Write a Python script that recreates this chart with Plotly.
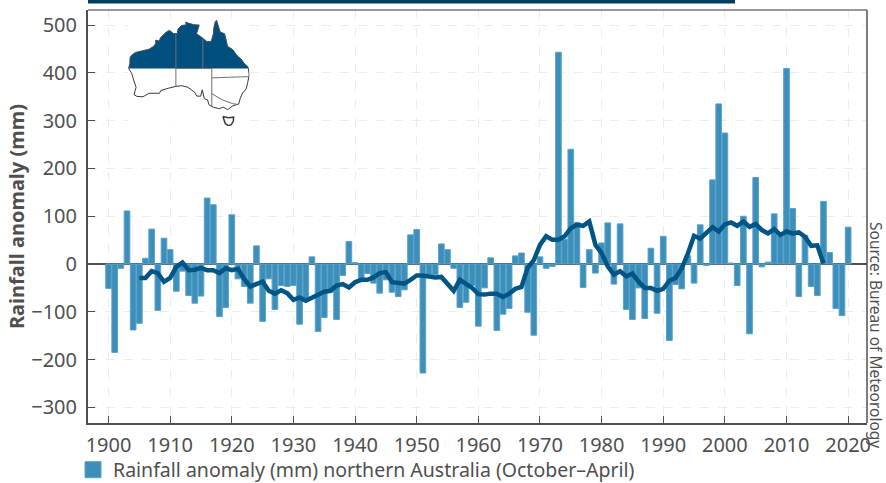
import plotly.graph_objects as go

W, H = 886, 483
L, R, T, B = 88, 867, 10, 423

bar_years = list(range(1900, 2021))
anomaly = [
    -51, -185, -9, 111, -138, -124, 12, 73, -97, 54,
    30, -57, -15, -66, -82, -67, 138, 124, -110, -91,
    103, -31, -47, -82, 38, -120, -31, -95, -45, -47,
    -45, -126, -78, 15, -141, -112, -59, -116, -24, 47,
    3, -31, -20, -40, -61, -33, -59, -68, -54, 61,
    72, -228, -22, -22, 42, 30, -9, -91, -80, -45,
    -130, -50, 13, -139, -105, -93, 17, 23, -101, -149,
    15, -9, -5, 443, 52, 240, 87, -49, 30, -19,
    44, 86, -42, 84, -95, -116, -50, -114, 33, -103,
    58, -160, -43, -52, 17, -40, 82, -3, 176, 335,
    274, 2, -45, 100, -146, 181, -6, 4, 105, 64,
    409, 116, -68, 60, -47, -66, 131, 24, -93, -108,
    77,
]

mean_years = list(range(1905, 2017))
running_mean = [
    -29, -29, -15, -19, -37,
    -29, -6, 3, -13, -12, -8, -13, -13, -19, -9,
    -13, -10, -31, -47, -41, -37, -56, -62, -55, -61,
    -75, -70, -77, -71, -63, -58, -56, -45, -42, -49,
    -38, -33, -33, -28, -19, -17, -38, -39, -41, -33,
    -24, -24, -27, -28, -27, -43, -56, -33, -41, -50,
    -63, -64, -62, -62, -69, -62, -52, -48, -8, 8,
    40, 58, 51, 51, 58, 75, 82, 80, 89, 40,
    23, -5, -22, -15, -26, -20, -37, -50, -50, -56,
    -52, -35, -29, -9, 22, 59, 53, 66, 77, 68,
    83, 87, 80, 89, 78, 84, 71, 64, 73, 61,
    68, 64, 66, 57, 38, 39, 1,
]

y_ticks = [-300, -200, -100, 0, 100, 200, 300, 400, 500]
x_ticks = list(range(1900, 2021, 10))

legend_label = "Rainfall anomaly (mm) northern Australia (October–April)"
y_title = "Rainfall anomaly (mm)"
source_text = "Source: Bureau of Meteorology"

# Map outline (longitude, latitude)
north_lon = [113.2, 113.6, 113.7, 114.2, 115.5, 116.8, 118.5, 120, 121.5, 122.3, 122.2, 123.5, 123.8, 124.8,
             125.8, 126.9, 128.2, 129.5, 129.7, 130.8, 132.5, 132.2, 133.5, 135, 136.8, 136.5, 135.9, 137.5,
             139.3, 140.8, 141.5, 141.7, 142.2, 142.6, 143.5, 143.8, 145.3, 145.8, 146.3, 148, 149.5, 150.8,
             152, 153.1, 153.2]
north_lat = [-26, -24.5, -22.5, -21.8, -20.9, -20.6, -20.3, -19.9, -19, -18, -17, -17.3, -16.3, -15.3,
             -14.4, -13.9, -14.9, -14.9, -13.5, -12.4, -12.1, -11.3, -11.6, -12.1, -12.2, -13.3, -15, -16,
             -17.4, -17.5, -15, -13, -11, -10.7, -13, -14.4, -15, -17, -19, -20, -22, -23,
             -24.6, -25.5, -26]
south_lon = [153.2, 153.5, 153, 152.5, 151.3, 150.5, 150, 148, 146.3, 144.8, 143.5, 141.5, 140, 139.6, 138.5,
             138.2, 137.8, 137.3, 136, 135.2, 134, 133, 131, 129, 126.5, 124, 123.5, 120, 118, 116, 115,
             115.7, 115, 114.2, 113.2]
south_lat = [-26, -28, -30.5, -32.5, -33.8, -35.5, -37.3, -37.9, -39.1, -38.3, -38.8, -38.3, -37.5, -36, -35.6,
             -34.5, -32.8, -34.8, -34.8, -33.5, -32.6, -32, -31.5, -31.7, -32.3, -33, -33.9, -33.9, -35, -34.9, -34.3,
             -32, -30, -27.5, -26]
tas_lon = [144.7, 146.5, 148.3, 148.2, 147.5, 146.5, 145.5, 144.7]
tas_lat = [-41.3, -41.7, -41.5, -42.8, -43.9, -44.2, -43.5, -41.3]
border_lon = [129, 129, None, 138, 138, None, 129, 141, None, 141, 141, None, 141, 153.3, None, 141, 144.5, 148, 150]
border_lat = [-14.9, -31.7, None, -16.6, -26, None, -26, -26, None, -26, -38.3, None, -29, -28.6, None, -34, -36, -37.2, -37.5]

BAR_FILL = "#3d8fbb"
BAR_EDGE = "#5ba3ca"
LINE = "#005585"
DARK = "#003f62"
TEXT = "#4f4f4f"
AXIS = "#505050"
GRID = "#ececec"

fig = go.Figure()

fig.add_trace(go.Bar(
    x=bar_years, y=anomaly, width=0.92, showlegend=False,
    marker=dict(color=BAR_FILL, line=dict(color=BAR_EDGE, width=1)),
))
fig.add_trace(go.Scatter(
    x=mean_years, y=running_mean, mode="lines", showlegend=False,
    line=dict(color=LINE, width=4.5),
))
# legend key
fig.add_trace(go.Scatter(
    x=[None], y=[None], mode="markers", name=legend_label, showlegend=True,
    marker=dict(symbol="square", size=16, color=BAR_FILL, line=dict(color=BAR_EDGE, width=1)),
))

# map inset
fig.add_trace(go.Scatter(
    x=south_lon, y=south_lat, xaxis="x2", yaxis="y2", mode="lines", fill="toself",
    fillcolor="white", line=dict(color="#3a3a3a", width=1), showlegend=False, hoverinfo="skip",
))
fig.add_trace(go.Scatter(
    x=tas_lon, y=tas_lat, xaxis="x2", yaxis="y2", mode="lines", fill="toself",
    fillcolor="white", line=dict(color="#3a3a3a", width=1.5), showlegend=False, hoverinfo="skip",
))
fig.add_trace(go.Scatter(
    x=north_lon, y=north_lat, xaxis="x2", yaxis="y2", mode="lines", fill="toself",
    fillcolor="#004f7f", line=dict(color="#44505a", width=1), showlegend=False, hoverinfo="skip",
))
fig.add_trace(go.Scatter(
    x=border_lon, y=border_lat, xaxis="x2", yaxis="y2", mode="lines",
    line=dict(color="#707070", width=1), showlegend=False, hoverinfo="skip",
))

def xf(px):
    return (px - L) / (R - L)

def yf(py):
    return (B - py) / (B - T)

fig.update_layout(
    width=W, height=H,
    margin=dict(l=L, r=W - R, t=T, b=H - B, pad=0, autoexpand=False),
    paper_bgcolor="white", plot_bgcolor="white",
    font=dict(family="Noto Sans, sans-serif", color=TEXT, size=20),
    barmode="overlay",
    xaxis=dict(
        range=[1896.67, 2023.06], tickvals=x_ticks, ticks="inside", ticklen=7, tickwidth=1,
        tickcolor=AXIS, showgrid=True, gridcolor=GRID, griddash="dash", gridwidth=1,
        showline=True, linecolor=AXIS, linewidth=2, zeroline=False,
        tickfont=dict(size=20, color=TEXT), ticklabelstandoff=3,
    ),
    yaxis=dict(
        range=[-332.6, 531.4], tickvals=y_ticks, ticks="inside", ticklen=7, tickwidth=1,
        tickcolor=AXIS, showgrid=True, gridcolor=GRID, griddash="dash", gridwidth=1,
        showline=True, linecolor=AXIS, linewidth=2, zeroline=True, zerolinecolor=AXIS, zerolinewidth=2,
        tickfont=dict(size=20, color=TEXT), ticklabelstandoff=5,
        title=dict(text="<b>" + y_title + "</b>", font=dict(size=20, color=TEXT), standoff=1),
    ),
    xaxis2=dict(domain=[xf(128), xf(249.5)], range=[113, 153.6], visible=False, fixedrange=True),
    yaxis2=dict(domain=[yf(126), yf(20)], range=[-44.3, -10.6], visible=False, fixedrange=True),
    legend=dict(
        xref="container", yref="container",
        x=(L - 15) / W, xanchor="left", y=1 - 470 / H, yanchor="middle",
        orientation="h", itemsizing="trace", itemwidth=30,
        font=dict(size=19.5, color=TEXT), bgcolor="rgba(0,0,0,0)",
    ),
    shapes=[
        dict(type="rect", xref="paper", yref="paper", x0=0, x1=xf(735), y0=yf(3.5), y1=yf(0),
             fillcolor=DARK, line=dict(width=0)),
        dict(type="line", xref="paper", yref="paper", x0=0, x1=1, y0=1, y1=1, line=dict(color="#777777", width=1.5)),
        dict(type="line", xref="paper", yref="paper", x0=1, x1=1, y0=0, y1=1, line=dict(color=AXIS, width=1.5)),
    ],
    annotations=[
        dict(text=source_text, xref="paper", yref="paper", x=xf(876), y=yf(450), xanchor="center", yanchor="bottom",
             textangle=90, showarrow=False, font=dict(size=15.5, color=TEXT)),
    ],
)

fig.write_html("out.html", post_script="document.body.style.margin='0';", config={"displayModeBar": False})
